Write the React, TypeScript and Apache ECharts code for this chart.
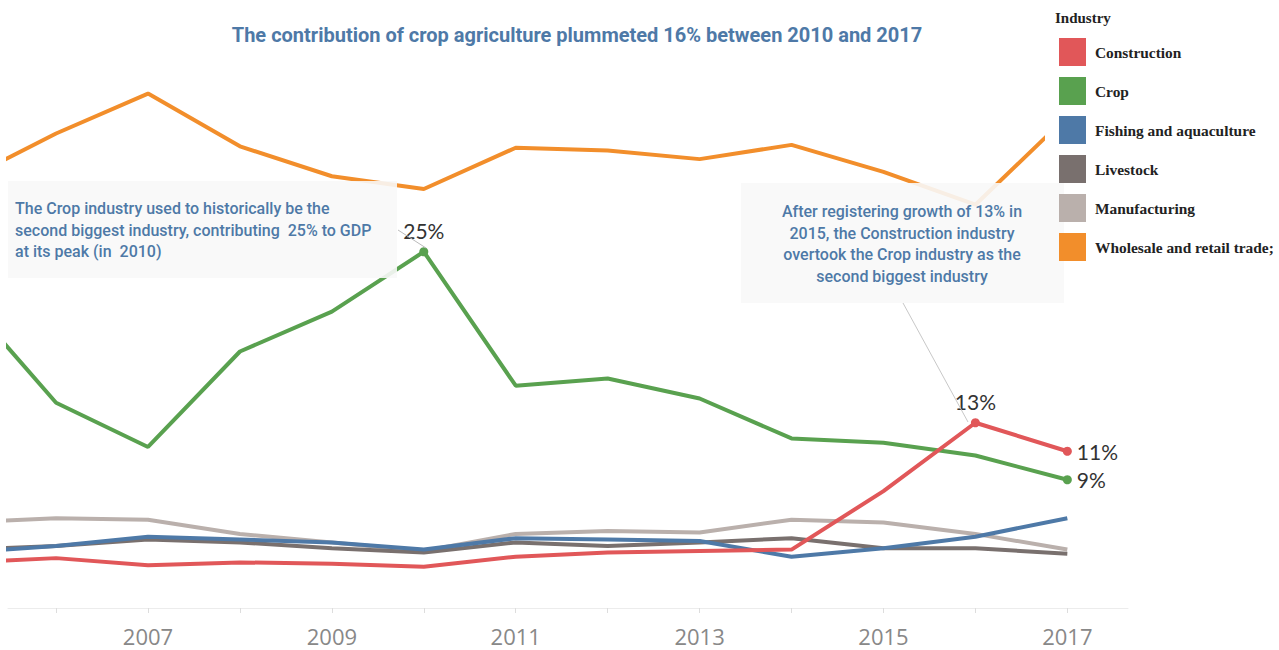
import React, { useEffect, useRef } from "react";
import * as echarts from "echarts";

const years = [2005, 2006, 2007, 2008, 2009, 2010, 2011, 2012, 2013, 2014, 2015, 2016, 2017];
const construction = [3.2, 3.5, 3.0, 3.2, 3.1, 2.9, 3.6, 3.9, 4.0, 4.1, 8.2, 13.0, 11.0];
const crop = [21.8, 14.4, 11.3, 18.0, 20.8, 25.0, 15.6, 16.1, 14.7, 11.9, 11.6, 10.7, 9.0];
const fishing = [3.9, 4.35, 5.0, 4.8, 4.6, 4.1, 4.9, 4.8, 4.7, 3.6, 4.2, 5.0, 6.3];
const livestock = [4.1, 4.35, 4.8, 4.6, 4.2, 3.9, 4.6, 4.35, 4.6, 4.9, 4.2, 4.2, 3.8];
const manufacturing = [6.0, 6.3, 6.2, 5.2, 4.6, 4.0, 5.2, 5.4, 5.3, 6.2, 6.0, 5.2, 4.1];
const wholesale = [30.0, 33.3, 36.1, 32.4, 30.3, 29.4, 32.3, 32.1, 31.5, 32.5, 30.6, 28.3, 34.5];

const industries = ["Construction", "Crop", "Fishing and aquaculture", "Livestock", "Manufacturing", "Wholesale and retail trade;"];
const colors = ["#e15759", "#59a14f", "#4e79a7", "#79706e", "#bab0ac", "#f28e2b"];
const seriesValues = [construction, crop, fishing, livestock, manufacturing, wholesale];
const tickYears = [2006, 2007, 2008, 2009, 2010, 2011, 2012, 2013, 2014, 2015, 2016, 2017];
const labelYears = [2007, 2009, 2011, 2013, 2015, 2017];

// labelled points: [series index, year, label position]
const labelled: [number, number, string][] = [
  [1, 2010, "top"],
  [0, 2016, "top"],
  [0, 2017, "right"],
  [1, 2017, "right"],
];

const title = "The contribution of crop agriculture plummeted 16% between 2010 and 2017";
const noteLeft = "The Crop industry used to historically be the\nsecond biggest industry, contributing  25% to GDP\nat its peak (in  2010)";
const noteRight = "After registering growth of 13% in\n2015, the Construction industry\novertook the Crop industry as the\nsecond biggest industry";

export default function App() {
  const ref = useRef<HTMLDivElement>(null);
  useEffect(() => {
    const chart = echarts.init(ref.current!, null, { renderer: "svg" });
    const drawOrder = [5, 4, 3, 2, 1, 0];
    const series = drawOrder.map((si) => ({
      name: industries[si],
      type: "line",
      symbol: "none",
      lineStyle: { width: 4, color: colors[si] },
      itemStyle: { color: colors[si] },
      emphasis: { disabled: true },
      data: years.map((y, i) => {
        const lab = labelled.find((l) => l[0] === si && l[1] === y);
        if (!lab) return [y, seriesValues[si][i]];
        return {
          value: [y, seriesValues[si][i]],
          symbol: "circle",
          symbolSize: 9,
          label: {
            show: true,
            position: lab[2],
            distance: lab[2] === "top" ? 6 : 5,
            formatter: (p: any) => Math.round(p.value[1]) + "%",
            fontFamily: "Lato",
            fontSize: 21,
            color: "#333",
          },
        };
      }),
      z: 2,
    }));

    const option: any = {
      animation: false,
      backgroundColor: "#fff",
      grid: { left: 8, right: 151, top: 38, height: 570 },
      xAxis: {
        type: "value",
        min: 2005.477,
        max: 2017.66,
        axisLine: { show: true, lineStyle: { color: "#ececec", width: 1 } },
        axisTick: { show: true, customValues: tickYears, length: 5, lineStyle: { color: "#dddddd" } },
        axisLabel: {
          customValues: labelYears,
          fontFamily: "Open Sans",
          fontSize: 22,
          color: "#888",
          margin: 17,
          formatter: (v: number) => String(v),
        },
        splitLine: { show: false },
      },
      yAxis: {
        type: "value",
        min: 0,
        max: 40,
        show: false,
        splitLine: { show: false },
      },
      legend: {
        orient: "vertical",
        left: 1059,
        top: 38,
        itemWidth: 27,
        itemHeight: 28,
        itemGap: 11,
        padding: 0,
        icon: "rect",
        selectedMode: false,
        data: industries,
        z: 30,
        textStyle: {
          fontFamily: "Liberation Serif",
          fontWeight: "bold",
          fontSize: 15.4,
          color: "#222",
          padding: [0, 0, 0, 4],
        },
      },
      series,
      graphic: [
        {
          type: "rect",
          z: 20,
          shape: { x: 1045, y: 0, width: 234, height: 272 },
          style: { fill: "#fff" },
        },
        {
          type: "text",
          z: 31,
          x: 1055,
          y: 18,
          style: {
            text: "Industry",
            fontFamily: "Liberation Serif",
            fontWeight: "bold",
            fontSize: 15,
            fill: "#222",
            textVerticalAlign: "middle",
          },
        },
        {
          type: "text",
          z: 31,
          x: 577,
          y: 35,
          style: {
            text: title,
            fontFamily: "Roboto",
            fontWeight: "bold",
            fontSize: 20,
            fill: "#4e79a7",
            textAlign: "center",
            textVerticalAlign: "middle",
          },
        },
        {
          type: "rect",
          z: 20,
          shape: { x: 8, y: 181, width: 389, height: 97 },
          style: { fill: "rgba(248,248,248,0.9)" },
        },
        {
          type: "text",
          z: 21,
          x: 15,
          y: 198,
          style: {
            text: noteLeft,
            fontFamily: "Roboto",
            fontWeight: 500,
            fontSize: 16,
            lineHeight: 21.5,
            fill: "#4e79a7",
            textAlign: "left",
            textVerticalAlign: "top",
          },
        },
        {
          type: "line",
          z: 21,
          shape: { x1: 398, y1: 230, x2: 426, y2: 248 },
          style: { stroke: "#bbb", lineWidth: 1 },
        },
        {
          type: "rect",
          z: 20,
          shape: { x: 741, y: 183, width: 323, height: 120 },
          style: { fill: "rgba(248,248,248,0.9)" },
        },
        {
          type: "text",
          z: 21,
          x: 902,
          y: 201,
          style: {
            text: noteRight,
            fontFamily: "Roboto",
            fontWeight: 500,
            fontSize: 16,
            lineHeight: 21.5,
            fill: "#4e79a7",
            textAlign: "center",
            textVerticalAlign: "top",
          },
        },
        {
          type: "line",
          z: 21,
          shape: { x1: 903, y1: 303, x2: 968, y2: 422 },
          style: { stroke: "#c8c8c8", lineWidth: 1 },
        },
      ],
    };
    chart.setOption(option);
    return () => chart.dispose();
  }, []);
  return (
    <div
      ref={ref}
      style={{ position: "fixed", left: 0, top: 0, width: 1279, height: 650, background: "#fff" }}
    />
  );
}
